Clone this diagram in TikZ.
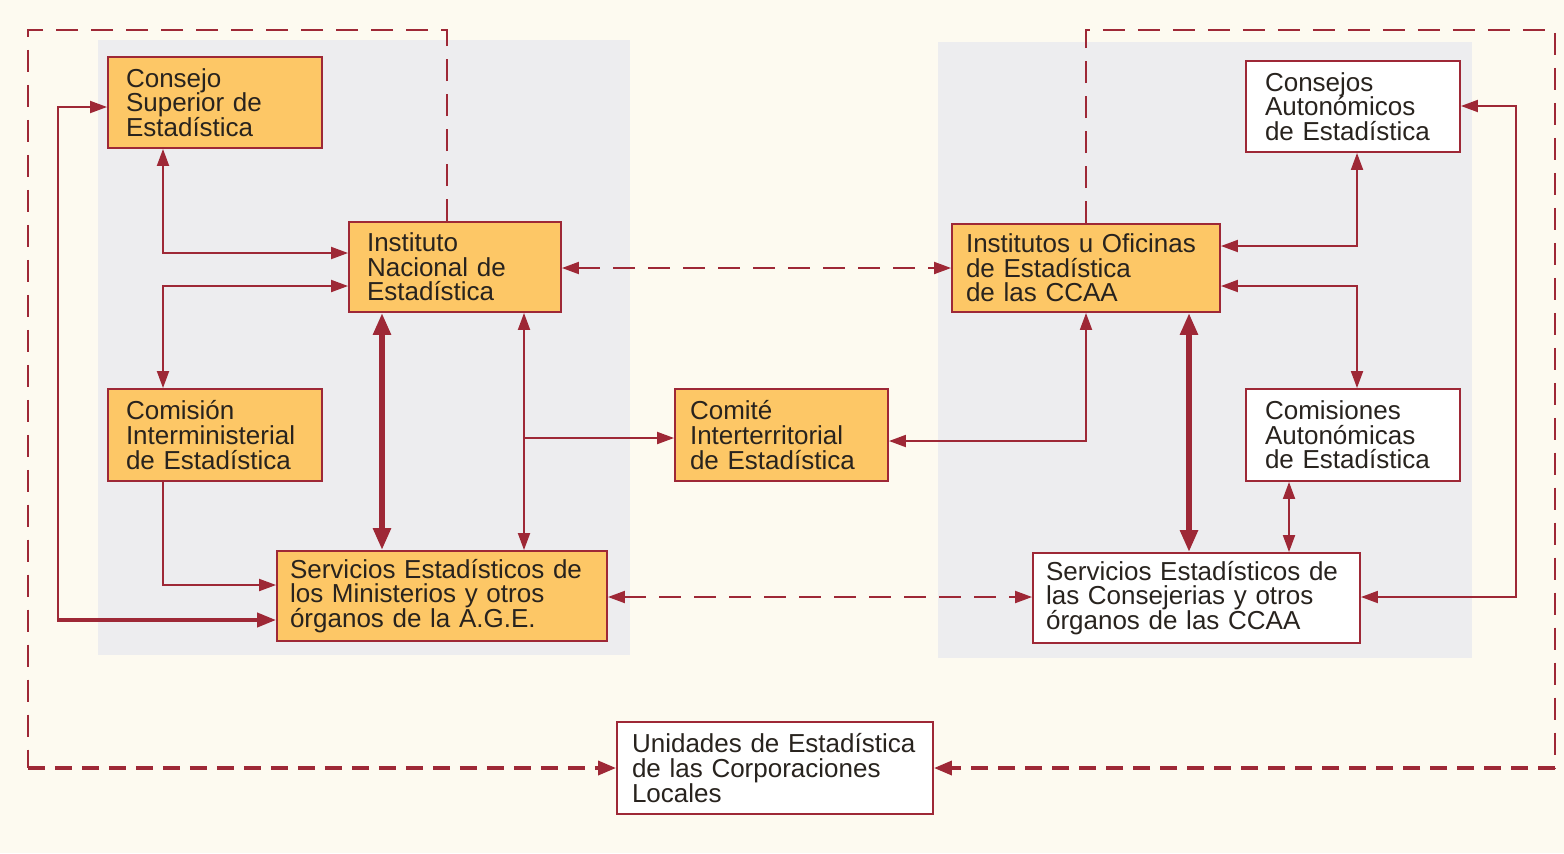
\documentclass[tikz,border=0pt]{standalone}
\usepackage{fontspec}
\setmainfont{Liberation Sans}
\usetikzlibrary{arrows.meta}
\definecolor{dred}{RGB}{158,40,54}
\definecolor{obox}{RGB}{253,199,102}
\definecolor{cream}{RGB}{253,250,240}
\definecolor{panel}{RGB}{237,237,239}
\definecolor{txt}{RGB}{40,35,30}
\begin{document}
\begin{tikzpicture}[x=0.02cm,y=-0.02cm,
  box/.style={draw=dred,line width=1.1pt,align=left,inner ysep=0pt,text=txt,
    font=\fontsize{14.8}{14}\selectfont},
  ob/.style={box,fill=obox},
  wb/.style={box,fill=white},
  ln/.style={draw=dred,line width=1.1pt,>={Triangle[length=0.34cm,width=0.24cm]}},
  mid/.style={draw=dred,line width=2.2pt,>={Triangle[length=0.38cm,width=0.28cm]}},
  thk/.style={draw=dred,line width=3.4pt,>={Triangle[length=0.44cm,width=0.34cm]}},
  dl/.style={ln,dash pattern=on 0.44cm off 0.26cm},
  dlb/.style={draw=dred,line width=2pt,dash pattern=on 0.34cm off 0.2cm,>={Triangle[length=0.36cm,width=0.28cm]}},
]
\useasboundingbox (0,0) rectangle (1564,853);
\fill[cream] (0,0) rectangle (1564,853);
\fill[panel] (98,40) rectangle (630,655);
\fill[panel] (938,42) rectangle (1472,658);

% nodes
\node[ob,minimum width=4.28cm,text width=3.56cm,inner xsep=0.36cm,minimum height=1.82cm] (CSE) at (215,102.5) {Consejo\\Superior de\\Estadística};
\node[ob,minimum width=4.24cm,text width=3.52cm,inner xsep=0.36cm,minimum height=1.80cm] (INE) at (455,267) {Instituto\\Nacional de\\Estadística};
\node[ob,minimum width=4.28cm,text width=3.56cm,inner xsep=0.36cm,minimum height=1.84cm] (CIE) at (215,435) {Comisión\\Interministerial\\de Estadística};
\node[ob,minimum width=6.60cm,text width=6.08cm,inner xsep=0.26cm,minimum height=1.80cm] (SEM) at (442,596) {Servicios Estadísticos de\\los Ministerios y otros\\órganos de la A.G.E.};
\node[ob,minimum width=4.26cm,text width=3.66cm,inner xsep=0.30cm,minimum height=1.84cm] (CIT) at (781.5,435) {Comité\\Interterritorial\\de Estadística};
\node[ob,minimum width=5.36cm,text width=4.80cm,inner xsep=0.28cm,minimum height=1.76cm] (IOC) at (1086,268) {Institutos u Oficinas\\de Estadística\\de las CCAA};
\node[wb,minimum width=4.28cm,text width=3.52cm,inner xsep=0.38cm,minimum height=1.82cm] (CAE) at (1353,106.5) {Consejos\\Autonómicos\\de Estadística};
\node[wb,minimum width=4.28cm,text width=3.52cm,inner xsep=0.38cm,minimum height=1.84cm] (COM) at (1353,435) {Comisiones\\Autonómicas\\de Estadística};
\node[wb,minimum width=6.54cm,text width=6.02cm,inner xsep=0.26cm,minimum height=1.80cm] (SEC) at (1196.5,598) {Servicios Estadísticos de\\las Consejerias y otros\\órganos de las CCAA};
\node[wb,minimum width=6.32cm,text width=5.72cm,inner xsep=0.30cm,minimum height=1.84cm] (UNI) at (775,768) {Unidades de Estadística\\de las Corporaciones\\Locales};

% coordinates
\coordinate (L1) at (447,30);
\coordinate (L2) at (28,30);
\coordinate (L3) at (28,768);
\coordinate (R1) at (1086,30);
\coordinate (R2) at (1555,30);
\coordinate (R3) at (1555,768);
\coordinate (a1) at (163,253);
\coordinate (a2) at (163,286);
\coordinate (a3) at (163,585);
\coordinate (a4) at (58,107);
\coordinate (a5) at (58,620);
\coordinate (a6) at (382,400);
\coordinate (a7) at (524,438);
\coordinate (b1) at (1086,441);
\coordinate (b2) at (1357,246);
\coordinate (b3) at (1357,286);
\coordinate (b4) at (1189,400);
\coordinate (b5) at (1289,500);
\coordinate (b6) at (1516,106);
\coordinate (b7) at (1516,597);
\coordinate (c1) at (800,268);
\coordinate (c2) at (800,597);

% dashed loops
\draw[dl] (INE.north -| L1) -- (L1) -- (L2) -- (L3);
\draw[dlb,->] (L3) -- (UNI.west);
\draw[dl,line width=1.5pt] (IOC.north -| R1) -- (R1) -- (R2) -- (R3);
\draw[dlb,->] (R3) -- (UNI.east);
\draw[dl,<->] (INE.east |- c1) -- (IOC.west |- c1);
\draw[dl,<->] (SEM.east |- c2) -- (SEC.west |- c2);

% left side
\draw[ln,<->] (CSE.south -| a1) -- (a1) -- (INE.west |- a1);
\draw[ln,<->] (INE.west |- a2) -- (a2) -- (CIE.north -| a2);
\draw[ln,->] (CIE.south -| a3) -- (a3) -- (SEM.west |- a3);
\draw[ln,->] (a5) -- (a4) -- (CSE.west |- a4);
\draw[mid,->] ([xshift=-0.55pt]a5) -- (SEM.west |- a5);
\draw[thk,<->] (INE.south -| a6) -- (SEM.north -| a6);
\draw[ln,<->] (INE.south -| a7) -- (SEM.north -| a7);
\draw[ln,->] (a7) -- (CIT.west |- a7);

% right side
\draw[ln,<->] (IOC.south -| b1) -- (b1) -- (CIT.east |- b1);
\draw[ln,<->] (IOC.east |- b2) -- (b2) -- (CAE.south -| b2);
\draw[ln,<->] (IOC.east |- b3) -- (b3) -- (COM.north -| b3);
\draw[thk,<->] (IOC.south -| b4) -- (SEC.north -| b4);
\draw[ln,<->] (COM.south -| b5) -- (SEC.north -| b5);
\draw[ln,<->] (CAE.east |- b6) -- (b6) -- (b7) -- (SEC.east |- b7);
\end{tikzpicture}
\end{document}
